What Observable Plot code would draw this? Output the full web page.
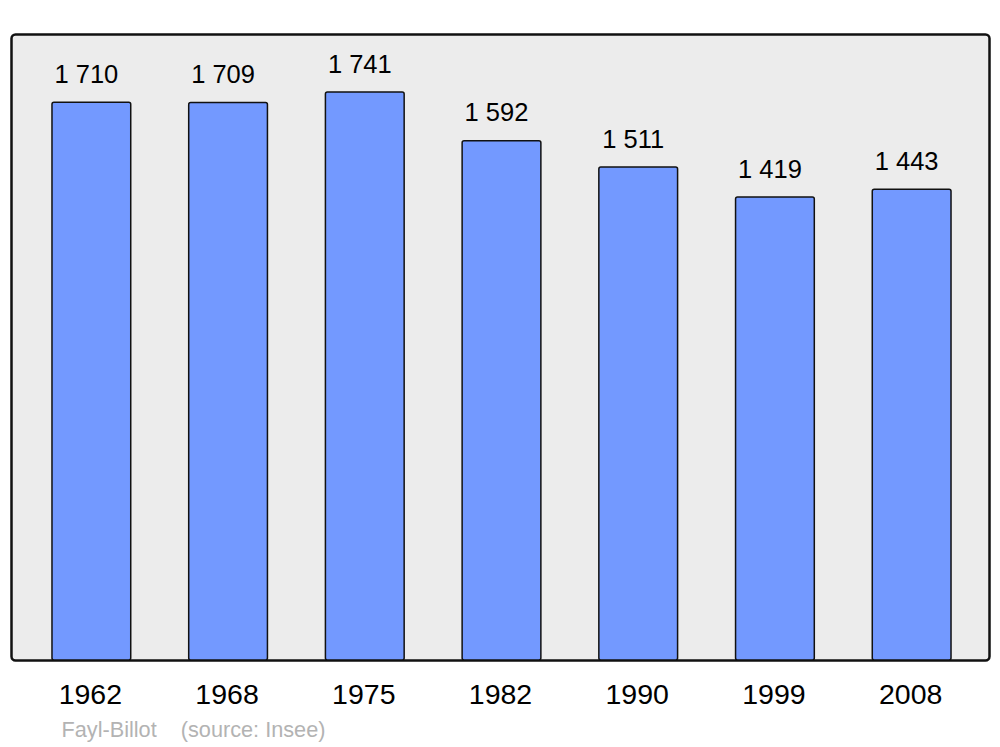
<!DOCTYPE html>
<html>
<head>
<meta charset="utf-8">
<script src="https://cdn.jsdelivr.net/npm/d3@7"></script>
<script src="https://cdn.jsdelivr.net/npm/@observablehq/plot@0.6"></script>
<style>
  html, body { margin: 0; padding: 0; background: #fff; }
</style>
</head>
<body>
<div id="chart"></div>
<script>
const years = ["1962", "1968", "1975", "1982", "1990", "1999", "2008"];
const population = [1710, 1709, 1741, 1592, 1511, 1419, 1443];
const valueLabels = ["1 710", "1 709", "1 741", "1 592", "1 511", "1 419", "1 443"];
const captionText = "Fayl-Billot    (source: Insee)";

const data = years.map((y, i) => ({year: y, pop: population[i], label: valueLabels[i]}));

const chart = Plot.plot({
  width: 1000,
  height: 747,
  marginLeft: 11,
  marginRight: 11,
  marginTop: 34,
  marginBottom: 87,
  style: {fontFamily: "'Liberation Sans', Arial, sans-serif", background: "#fff"},
  x: {domain: years, range: [23, 980], round: false, paddingInner: 0.424, paddingOuter: 0.212, label: null},
  y: {domain: [0, 1919], axis: null},
  marks: [
    Plot.frame({fill: "#ececec", stroke: "#111", strokeWidth: 2.5, rx: 4}),
    Plot.barY(data, {x: "year", y: "pop", fill: "#7399ff", stroke: "#111", strokeWidth: 1.5, rx: 2}),
    Plot.text(data, {x: "year", y: "pop", text: "label", dx: -5.5, dy: -28, fontSize: 25.5, fill: "#000"}),
    Plot.axisX({tickSize: 0, tickPadding: 23, dx: -1.5, fontSize: 28.5, fill: "#000", label: null}),
    Plot.text([captionText], {text: d => d, frameAnchor: "bottom-left", lineAnchor: "middle", dx: 50, dy: 70, textAnchor: "start", fontSize: 21.7, fill: "#b3b3b3"})
  ]
});
document.getElementById("chart").append(chart);
</script>
</body>
</html>
